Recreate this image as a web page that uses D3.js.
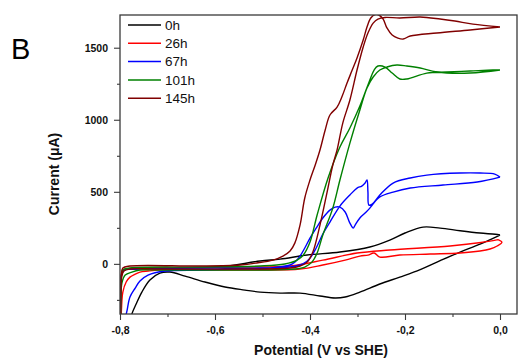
<!DOCTYPE html>
<html>
<head>
<meta charset="utf-8">
<script src="https://cdn.jsdelivr.net/npm/d3@7"></script>
<style>
  html, body { margin: 0; padding: 0; background: #ffffff; }
  svg { display: block; font-family: "Liberation Sans", Arial, sans-serif; }
</style>
</head>
<body>
<svg id="chart" width="518" height="360"></svg>
<script>
// Cyclic voltammograms of the electrode over time: [potential (V vs SHE), current (µA)]
// Each loop starts at 0.0 V, runs the cathodic sweep down to -0.8 V and returns.
const scan0h = [
  [0.000, 200], [-0.042, 137], [-0.084, 82], [-0.126, 22], [-0.168, -40], [-0.211, -92],
  [-0.253, -140], [-0.295, -196], [-0.326, -230], [-0.347, -237], [-0.379, -223],
  [-0.421, -203], [-0.463, -203], [-0.505, -196], [-0.537, -182], [-0.579, -161],
  [-0.621, -126], [-0.663, -85], [-0.695, -57], [-0.716, -64], [-0.737, -112],
  [-0.754, -196], [-0.766, -279], [-0.775, -348], [-0.785, -480], [-0.800, -650],
  [-0.799, -220], [-0.797, -80], [-0.790, -42], [-0.770, -36], [-0.674, -29],
  [-0.589, -22], [-0.505, 20], [-0.463, 33], [-0.406, 61], [-0.337, 82], [-0.274, 117],
  [-0.232, 165], [-0.200, 214], [-0.162, 255], [-0.126, 248], [-0.084, 230],
  [-0.042, 214], [-0.010, 205], [0.000, 200]
];
const scan26h = [
  [-0.004, 168], [0.004, 150], [-0.006, 124], [-0.021, 103], [-0.042, 89], [-0.084, 75],
  [-0.147, 68], [-0.211, 61], [-0.253, 47], [-0.265, 75], [-0.278, 61], [-0.295, 54],
  [-0.326, 26], [-0.373, -8], [-0.421, -36], [-0.505, -43], [-0.632, -43], [-0.716, -43],
  [-0.741, -50], [-0.758, -57], [-0.768, -71], [-0.779, -92], [-0.787, -126],
  [-0.794, -196], [-0.797, -321], [-0.799, -530], [-0.800, -700],
  [-0.799, -300], [-0.798, -100], [-0.795, -45], [-0.785, -33], [-0.674, -29],
  [-0.547, -22], [-0.442, -15], [-0.373, 26], [-0.301, 75], [-0.232, 96],
  [-0.105, 124], [-0.040, 148], [-0.004, 168]
];
const scan67h = [
  [0.000, 602], [-0.048, 568], [-0.120, 547], [-0.189, 526], [-0.225, 498], [-0.253, 464],
  [-0.269, 408], [-0.274, 387], [-0.284, 353], [-0.295, 318], [-0.305, 269],
  [-0.309, 248], [-0.316, 283], [-0.326, 360], [-0.337, 394], [-0.347, 394],
  [-0.358, 373], [-0.373, 318], [-0.387, 248], [-0.400, 179], [-0.411, 110],
  [-0.421, 54], [-0.432, 12], [-0.442, -8], [-0.484, -29], [-0.547, -36], [-0.632, -43],
  [-0.705, -50], [-0.741, -78], [-0.758, -119], [-0.768, -168], [-0.779, -230],
  [-0.785, -321], [-0.789, -390], [-0.796, -600], [-0.800, -800],
  [-0.799, -350], [-0.798, -150], [-0.797, -78], [-0.792, -43], [-0.768, -36],
  [-0.632, -29], [-0.505, -29], [-0.442, -22], [-0.415, -1], [-0.400, 40],
  [-0.387, 110], [-0.373, 207], [-0.358, 290], [-0.337, 401], [-0.316, 478],
  [-0.301, 526], [-0.291, 540], [-0.284, 561], [-0.280, 582], [-0.278, 498],
  [-0.276, 408], [-0.269, 415], [-0.253, 478], [-0.225, 561], [-0.189, 596],
  [-0.154, 616], [-0.084, 630], [-0.042, 630], [-0.011, 623], [0.000, 602]
];
const scan101h = [
  [0.000, 1345], [-0.063, 1324], [-0.133, 1331], [-0.168, 1359], [-0.196, 1373],
  [-0.217, 1380], [-0.238, 1366], [-0.253, 1345], [-0.267, 1297], [-0.280, 1220],
  [-0.295, 1068], [-0.316, 838], [-0.337, 582], [-0.352, 387], [-0.373, 200],
  [-0.385, 75], [-0.396, 12], [-0.411, -22], [-0.432, -36], [-0.505, -43],
  [-0.632, -43], [-0.716, -43], [-0.758, -43], [-0.775, -57], [-0.789, -78],
  [-0.796, -134], [-0.798, -251], [-0.799, -460], [-0.800, -700],
  [-0.799, -250], [-0.797, -78], [-0.794, -43], [-0.779, -29], [-0.632, -22],
  [-0.505, -15], [-0.453, -1], [-0.427, 26], [-0.414, 61], [-0.400, 151],
  [-0.385, 339], [-0.362, 596], [-0.337, 811], [-0.316, 943], [-0.295, 1095],
  [-0.278, 1241], [-0.265, 1345], [-0.257, 1373], [-0.242, 1366], [-0.227, 1324],
  [-0.211, 1283], [-0.196, 1283], [-0.154, 1324], [-0.112, 1331], [-0.063, 1338],
  [-0.015, 1345], [0.000, 1345]
];
const scan145h = [
  [0.000, 1644], [-0.057, 1664], [-0.095, 1685], [-0.126, 1699], [-0.168, 1713],
  [-0.211, 1706], [-0.242, 1710], [-0.257, 1699], [-0.267, 1671], [-0.278, 1602],
  [-0.288, 1505], [-0.301, 1345], [-0.316, 1137], [-0.331, 977], [-0.343, 790],
  [-0.352, 686], [-0.364, 498], [-0.379, 269], [-0.394, 82], [-0.406, 12],
  [-0.421, -15], [-0.442, -29], [-0.547, -36], [-0.716, -36], [-0.779, -36],
  [-0.792, -50], [-0.796, -85], [-0.798, -182], [-0.799, -390], [-0.800, -700],
  [-0.799, -250], [-0.797, -78], [-0.794, -29], [-0.779, -15], [-0.632, -15],
  [-0.547, -8], [-0.512, 6], [-0.478, 26], [-0.457, 54], [-0.442, 89], [-0.432, 144],
  [-0.421, 269], [-0.411, 457], [-0.400, 582], [-0.389, 686], [-0.379, 790],
  [-0.368, 929], [-0.358, 1033], [-0.343, 1088], [-0.333, 1158], [-0.322, 1255],
  [-0.312, 1338], [-0.301, 1429], [-0.288, 1553], [-0.280, 1644], [-0.272, 1706],
  [-0.263, 1730], [-0.255, 1727], [-0.246, 1699], [-0.238, 1637], [-0.227, 1588],
  [-0.215, 1567], [-0.204, 1560], [-0.189, 1581], [-0.133, 1602], [-0.063, 1623],
  [0.000, 1644]
];

const seriesLabels = ["0h", "26h", "67h", "101h", "145h"];
const seriesScans = [scan0h, scan26h, scan67h, scan101h, scan145h];
const seriesColors = ["#000000", "#ff0000", "#0000ff", "#008000", "#800000"];

const xMajorTicks = [-0.8, -0.6, -0.4, -0.2, 0.0];
const xMinorTicks = [-0.7, -0.5, -0.3, -0.1];
const yMajorTicks = [0, 500, 1000, 1500];
const yMinorTicks = [-250, 250, 750, 1250];

const panelLabel = "B";
const xTitle = "Potential (V vs SHE)";
const yTitle = "Current (\u03bcA)";

// Layout
const W = 518, H = 360;
const plot = { left: 120, top: 15, right: 517, bottom: 314 };

const svg = d3.select("#chart");

const x = d3.scaleLinear().domain([-0.8, 0.0358]).range([plot.left, plot.right]);
const y = d3.scaleLinear().domain([-348, 1727]).range([plot.bottom, plot.top]);

const commaLocale = d3.formatLocale({
  decimal: ",", thousands: ".", grouping: [3], currency: ["", ""], minus: "-"
});
const xFmt = commaLocale.format(".1f");

svg.append("defs").append("clipPath").attr("id", "plotClip")
  .append("rect")
  .attr("x", plot.left).attr("y", plot.top)
  .attr("width", plot.right - plot.left).attr("height", plot.bottom - plot.top);

// Curves
const line = d3.line()
  .x(d => x(d[0]))
  .y(d => y(d[1]))
  .curve(d3.curveCatmullRom.alpha(0.5));

const curves = svg.append("g").attr("clip-path", "url(#plotClip)");
seriesScans.forEach((scan, i) => {
  curves.append("path")
    .datum(scan)
    .attr("d", line)
    .attr("fill", "none")
    .attr("stroke", seriesColors[i])
    .attr("stroke-width", 1.4)
    .attr("stroke-linejoin", "round");
});

// Axes
const axisColor = "#3a3a3a";
function styleAxis(g) {
  g.select(".domain").remove();
  g.selectAll(".tick line").attr("stroke", axisColor).attr("stroke-width", 1.1);
  g.selectAll(".tick text")
    .attr("fill", "#111")
    .style("font-family", "'Liberation Sans', Arial, sans-serif")
    .style("font-size", "10.5px")
    .style("font-weight", "bold");
}

svg.append("g")
  .attr("transform", `translate(0,${plot.bottom})`)
  .call(d3.axisBottom(x).tickValues(xMajorTicks).tickFormat(xFmt).tickSize(6).tickPadding(7))
  .call(styleAxis);
svg.append("g")
  .attr("transform", `translate(0,${plot.bottom})`)
  .call(d3.axisBottom(x).tickValues(xMinorTicks).tickFormat("").tickSize(3))
  .call(styleAxis);

svg.append("g")
  .attr("transform", `translate(${plot.left},0)`)
  .call(d3.axisLeft(y).tickValues(yMajorTicks).tickFormat(d3.format("d")).tickSize(6).tickPadding(6))
  .call(styleAxis);
svg.append("g")
  .attr("transform", `translate(${plot.left},0)`)
  .call(d3.axisLeft(y).tickValues(yMinorTicks).tickFormat("").tickSize(3))
  .call(styleAxis);

// Frame
svg.append("rect")
  .attr("x", plot.left).attr("y", plot.top)
  .attr("width", plot.right - plot.left).attr("height", plot.bottom - plot.top)
  .attr("fill", "none").attr("stroke", axisColor).attr("stroke-width", 1.3);

// Legend
const legend = svg.append("g").attr("transform", "translate(128,25)");
seriesLabels.forEach((lab, i) => {
  const row = legend.append("g").attr("transform", `translate(0,${i * 18.3})`);
  row.append("line")
    .attr("x1", 0).attr("x2", 33).attr("y1", 0).attr("y2", 0)
    .attr("stroke", seriesColors[i]).attr("stroke-width", 1.5);
  row.append("text")
    .attr("x", 37).attr("y", 0).attr("dy", "0.36em")
    .style("font-size", "13.5px")
    .attr("fill", "#111")
    .text(lab);
});

// Titles
svg.append("text")
  .attr("x", 321).attr("y", 355)
  .attr("text-anchor", "middle")
  .style("font-size", "14px").style("font-weight", "bold")
  .attr("fill", "#111")
  .text(xTitle);

svg.append("text")
  .attr("transform", "translate(59,174) rotate(-90)")
  .attr("text-anchor", "middle")
  .style("font-size", "14px").style("font-weight", "bold")
  .attr("fill", "#111")
  .text(yTitle);

svg.append("text")
  .attr("x", 11).attr("y", 59)
  .style("font-size", "29px")
  .attr("fill", "#000")
  .text(panelLabel);
</script>
</body>
</html>
